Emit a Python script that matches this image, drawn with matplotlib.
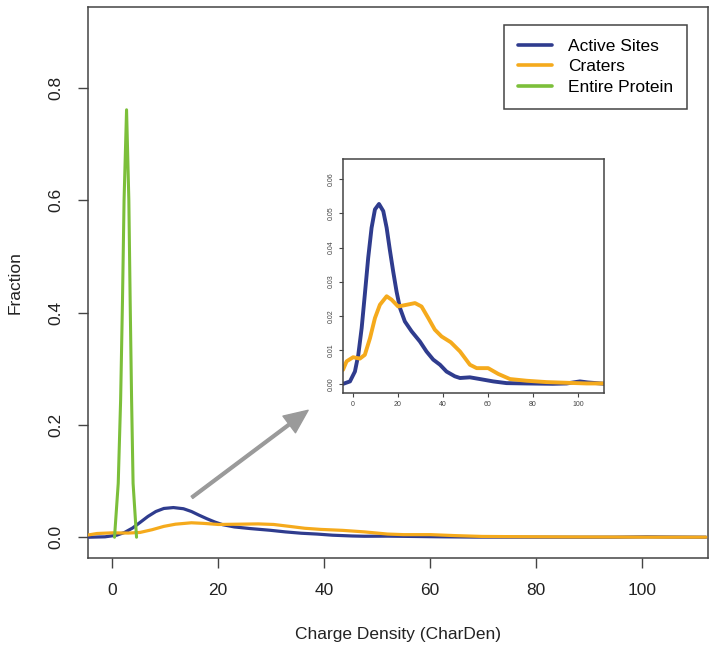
import numpy as np
import matplotlib
matplotlib.use('Agg')
import matplotlib.pyplot as plt
from matplotlib.ticker import MultipleLocator

plt.rcParams['font.family'] = ['Liberation Sans', 'DejaVu Sans']

# density curves
active_x = [-4.3, -1.3, 0.9, 2.4, 3.9, 5.3, 6.8, 8.3, 9.8, 11.6, 13.5, 15.0, 16.4,
            17.9, 19.4, 20.9, 23.1, 26.1, 29.8, 32.7, 35.7, 38.7, 41.6, 45.3, 47.6,
            52.0, 56.4, 62.4, 68.3, 77.2, 88.9, 95.0, 100.9, 104.4, 112.0]
active_y = [0.0, 0.0007, 0.0036, 0.0085, 0.0164, 0.0262, 0.037, 0.0458, 0.0512,
            0.0528, 0.0507, 0.0458, 0.0394, 0.033, 0.0271, 0.0223, 0.0183, 0.0154,
            0.0124, 0.0095, 0.0071, 0.0056, 0.0036, 0.0022, 0.0017, 0.0019, 0.0014,
            0.0007, 0.0002, 0.0001, 0.0, 0.0001, 0.0007, 0.0004, 0.0]

crater_x = [-4.4, -2.8, 0.1, 3.1, 5.3, 7.6, 9.8, 12.0, 15.0, 17.2, 20.1, 23.9, 27.6,
            30.5, 33.5, 36.4, 39.4, 43.5, 47.6, 52.0, 55.0, 60.1, 64.6, 69.8, 77.2,
            86.1, 95.0, 103.9, 112.0]
crater_y = [0.0041, 0.0066, 0.0078, 0.0074, 0.0085, 0.0134, 0.0193, 0.0232, 0.0257,
            0.0247, 0.0227, 0.0232, 0.0237, 0.0227, 0.0193, 0.0159, 0.0139, 0.0122,
            0.0095, 0.0056, 0.0046, 0.0046, 0.0029, 0.0014, 0.0009, 0.0005, 0.0003,
            0.0001, 0.0001]

protein_x = [0.5, 1.2, 1.65, 2.0, 2.3, 2.77, 3.2, 3.45, 3.72, 4.0, 4.65]
protein_y = [0.0, 0.096, 0.244, 0.42, 0.60, 0.761, 0.60, 0.42, 0.244, 0.096, 0.0]

labels = ['Active Sites', 'Craters', 'Entire Protein']
BLUE = '#2f3c8e'
ORANGE = '#f5aa1c'
GREEN = '#7cbf3a'
EDGE = '#444444'
line_kw = dict(solid_joinstyle='round', solid_capstyle='round')

fig = plt.figure(figsize=(7.14, 6.5), dpi=100)
ax = fig.add_axes([88/714, 1 - 558/650, 620/714, 551/650])

ax.plot(active_x, active_y, color=BLUE, lw=2.3, label=labels[0], zorder=3, **line_kw)
ax.plot(crater_x, crater_y, color=ORANGE, lw=2.3, label=labels[1], zorder=3, **line_kw)
ax.plot(protein_x, protein_y, color=GREEN, lw=2.2, label=labels[2], zorder=4, **line_kw)

ax.set_xlim(-4.5, 112.4)
ax.set_ylim(-0.037, 0.944)
ax.xaxis.set_major_locator(MultipleLocator(20))
ax.set_yticks([0.0, 0.2, 0.4, 0.6, 0.8])
ax.set_yticklabels(['0.0', '0.2', '0.4', '0.6', '0.8'], rotation=90, va='center')
ax.tick_params(axis='both', labelsize=12.5, length=7, width=1, color=EDGE, labelcolor='#222222')
ax.tick_params(axis='x', pad=11)
ax.tick_params(axis='y', pad=11)
for sp in ax.spines.values():
  sp.set_color(EDGE)
  sp.set_linewidth(1.1)

ax.set_xlabel('Charge Density (CharDen)', fontsize=12.5, color='#222222')
ax.xaxis.set_label_coords(0.5, -0.125)
ax.set_ylabel('Fraction', fontsize=12.5, color='#222222')
ax.yaxis.set_label_coords(-0.106, 0.5)

leg = ax.legend(loc='upper right', bbox_to_anchor=(687/714, 1 - 25/650),
                bbox_transform=fig.transFigure, fontsize=12.5, handlelength=2.0,
                handletextpad=0.9, labelspacing=0.3, borderpad=0.8, borderaxespad=0,
                fancybox=False, framealpha=1, edgecolor=EDGE)
leg.get_frame().set_linewidth(1.1)
for line in leg.get_lines():
  line.set_linewidth(2.6)

# arrow pointing to the zoomed view
ax.annotate('', xy=(37.0, 0.226), xytext=(15.1, 0.071),
            arrowprops=dict(facecolor='#9a9a9a', edgecolor='#9a9a9a',
                            width=2.0, headwidth=15, headlength=17, shrink=0))

# inset
ins = fig.add_axes([343/714, 1 - 393/650, 261/714, 234/650])
ins.plot(active_x, active_y, color=BLUE, lw=2.8, **line_kw)
ins.plot(crater_x, crater_y, color=ORANGE, lw=2.8, **line_kw)
ins.set_xlim(-4.4, 111.6)
ins.set_ylim(-0.0027, 0.066)
ins.xaxis.set_major_locator(MultipleLocator(20))
ins.set_yticks([0.0, 0.01, 0.02, 0.03, 0.04, 0.05, 0.06])
ins.set_yticklabels(['0.00', '0.01', '0.02', '0.03', '0.04', '0.05', '0.06'],
                    rotation=90, va='center')
ins.tick_params(axis='both', labelsize=5, length=3, width=0.8, color=EDGE,
                labelcolor='#444444', pad=3)
for sp in ins.spines.values():
  sp.set_color(EDGE)
  sp.set_linewidth(1.1)

fig.savefig('out.png', dpi=100)
plt.close('all')
